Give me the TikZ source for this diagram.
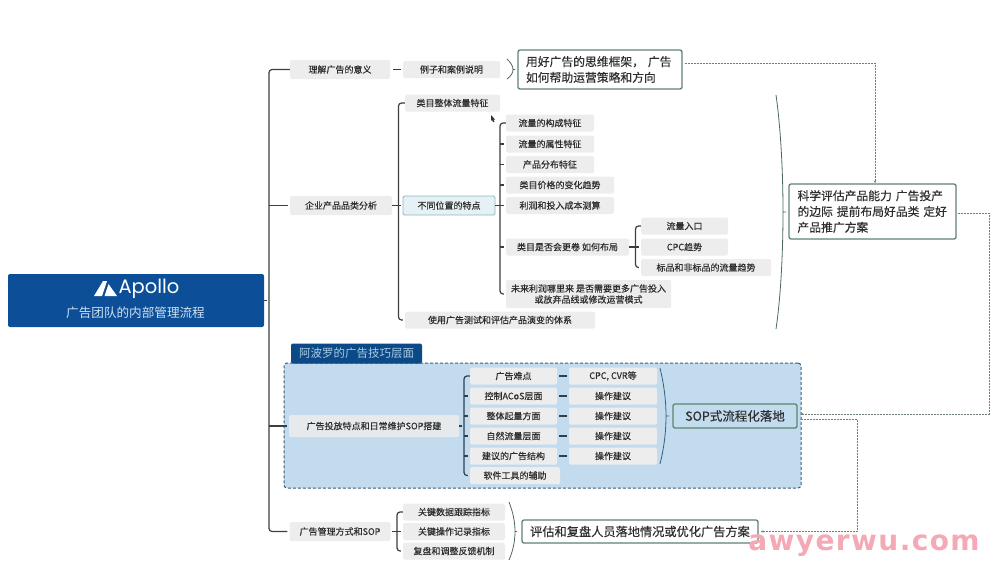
\documentclass[tikz,border=0pt]{standalone}
\usepackage{fontspec}
\usepackage{color}
\setmainfont{Noto Sans CJK SC}
\newfontfamily\leaffont[FakeBold=0.35]{Noto Sans CJK SC}
\newfontfamily\logofont{Poppins}
\newfontfamily\markfont[LetterSpace=5]{DejaVu Sans Bold}
\definecolor{rootblue}{HTML}{0C4F98}
\definecolor{tabblue}{HTML}{0B4A86}
\definecolor{tabtext}{HTML}{A9CBE6}
\definecolor{roottext}{HTML}{CFE0F0}
\definecolor{areablue}{HTML}{C2DBEE}
\definecolor{areaedge}{HTML}{3F5C75}
\definecolor{leafgrey}{HTML}{EDEDED}
\definecolor{linegrey}{HTML}{3A3F42}
\definecolor{boxgreen}{HTML}{5F8270}
\definecolor{dashgrey}{HTML}{6F7F76}
\definecolor{selectblue}{HTML}{E6F1F5}
\definecolor{selectedge}{HTML}{8DB8C4}
\definecolor{marktext}{HTML}{F4A9B5}
\usetikzlibrary{arrows.meta}

\begin{document}
\begin{tikzpicture}[x=1pt, y=-1pt,
  every node/.style = {inner sep=0pt, align=center, text=black!82},
  leaf/.style = {fill=leafgrey, rounded corners=1.5pt, font=\leaffont\fontsize{9}{11}\selectfont,
    minimum height=17pt},
  summary/.style = {draw=boxgreen, line width=1.3pt, fill=white, rounded corners=2pt,
    font=\leaffont\fontsize{11.8}{15.8}\selectfont},
  stem/.style = {draw=linegrey, line width=1.2pt, rounded corners=3pt, shorten >=2pt},
  innerstem/.style = {stem, draw=areaedge!70!black},
  brace/.style = {draw=boxgreen!80!black, line width=0.8pt},
  link/.style = {draw=dashgrey, line width=1pt, dash pattern=on 2pt off 1pt, -{Stealth[length=3pt]}}]

  \useasboundingbox (0,0) rectangle (1000,574);

  \node (area) [draw=areaedge, densely dashed, line width=1pt, fill=areablue, rounded corners=3pt,
    minimum width=517pt, minimum height=125pt] at (542.5,425.5) {};
  \node (tab) [fill=tabblue, rounded corners=2pt, text=tabtext, font=\fontsize{11.5}{13}\selectfont,
    minimum width=131pt, minimum height=20pt] at (356.5,353.5) {阿波罗的广告技巧层面};

  \node (root) [fill=rootblue, rounded corners=2pt, minimum width=256pt, minimum height=53pt] at (136,300.5) {};
  \fill[white] (94,296) -- (103,281) -- (107,281) -- (102,296) -- cycle;
  \fill[white] (108.5,284) -- (117,296) -- (104.5,296) -- cycle;
  \node (logo) [text=white, font=\logofont\fontsize{19.5}{24}\selectfont] at (149,289) {Apollo};
  \node (title) [text=roottext, font=\fontsize{12.6}{16}\selectfont] at (135.5,312.5) {广告团队的内部管理流程};

  \node (meaning) [leaf, minimum width=100pt, minimum height=19pt] at (340,69.5) {理解广告的意义};
  \node (category) [leaf, minimum width=102pt, minimum height=19pt] at (341,205.5) {企业产品品类分析};
  \node (daily) [leaf, fill=leafgrey!85!areablue, minimum width=170pt, minimum height=22pt] at (374,426) {广告投放特点和日常维护SOP搭建};
  \node (manage) [leaf, minimum width=101pt, minimum height=19pt] at (340,531.5) {广告管理方式和SOP};

  \node (cases) [leaf, minimum width=97pt] at (451.5,69.5) {例子和案例说明};
  \node (whole) [leaf, minimum width=95pt] at (452.5,103) {类目整体流量特征};
  \node (spots) [leaf, draw=selectedge, fill=selectblue, line width=0.8pt, minimum width=92pt, minimum height=19pt] at (449,205.5) {不同位置的特点};
  \node (test) [leaf, minimum width=190pt] at (500,320) {使用广告测试和评估产品演变的体系};

  \node (make) [leaf, minimum width=88pt] at (550,123) {流量的构成特征};
  \node (attr) [leaf, minimum width=88pt] at (550,144) {流量的属性特征};
  \node (spread) [leaf, minimum width=88pt] at (550,164.5) {产品分布特征};
  \node (price) [leaf, minimum width=108pt] at (560,185) {类目价格的变化趋势};
  \node (cost) [leaf, minimum width=108pt] at (560,205.5) {利润和投入成本测算};
  \node (layout) [leaf, minimum width=123pt] at (567.5,247) {类目是否会更卷 如何布局};
  \node (future) [leaf, minimum width=165pt, minimum height=28pt] at (588.5,294) {未来利润哪里来 是否需要更多广告投入\\或放弃品线或修改运营模式};

  \node (entry) [leaf, minimum width=87pt] at (684.5,226) {流量入口};
  \node (cpc) [leaf, minimum width=87pt] at (684.5,247) {CPC趋势};
  \node (std) [leaf, minimum width=130pt] at (706,267.5) {标品和非标品的流量趋势};

  \node (hard) [leaf, minimum width=87pt] at (513.5,376) {广告难点};
  \node (acos) [leaf, minimum width=87pt] at (513.5,396) {控制ACoS层面};
  \node (volume) [leaf, minimum width=87pt] at (513.5,416) {整体起量方面};
  \node (natural) [leaf, minimum width=87pt] at (513.5,436) {自然流量层面};
  \node (struct) [leaf, minimum width=87pt] at (513.5,456) {建议的广告结构};
  \node (tools) [leaf, minimum width=90pt] at (515,475.5) {软件工具的辅助};

  \node (cvr) [leaf, minimum width=88pt] at (613,376) {CPC, CVR等};
  \node (tipa) [leaf, minimum width=88pt] at (613,396) {操作建议};
  \node (tipb) [leaf, minimum width=88pt] at (613,416) {操作建议};
  \node (tipc) [leaf, minimum width=88pt] at (613,436) {操作建议};
  \node (tipd) [leaf, minimum width=88pt] at (613,456) {操作建议};

  \node (track) [leaf, minimum width=102pt] at (454,512) {关键数据跟踪指标};
  \node (record) [leaf, minimum width=102pt] at (454,531.5) {关键操作记录指标};
  \node (review) [leaf, minimum width=102pt] at (454,551) {复盘和调整反馈机制};

  \node (frame) [summary, align=left, minimum width=164pt, minimum height=39pt, text width=148pt] at (600,69.5) {用好广告的思维框架， 广告\\如何帮助运营策略和方向};
  \node (ability) [summary, align=left, minimum width=167pt, minimum height=55pt, text width=150pt] at (872.5,211.5) {科学评估产品能力 广告投产\\的边际 提前布局好品类 定好\\产品推广方案};
  \node (sop) [summary, fill=areablue, font=\leaffont\fontsize{12.5}{15}\selectfont, minimum width=124pt, minimum height=24pt] at (735,416) {SOP式流程化落地};
  \node (assess) [summary, font=\leaffont\fontsize{12.2}{15}\selectfont, minimum width=236pt, minimum height=23pt] at (640,531.5) {评估和复盘人员落地情况或优化广告方案};

  \coordinate (trunk) at (269,300.5);
  \coordinate (forka) at (398.5,205.5);
  \coordinate (forkb) at (500,205.5);
  \coordinate (forkc) at (635.5,247);
  \coordinate (forkd) at (464,426);
  \coordinate (forke) at (397,531.5);

  \draw[stem] (meaning.west) -| (trunk) |- (manage.west);
  \draw[stem] (root.east) -- (trunk);
  \draw[stem] (trunk |- category) -- (category.west);
  \draw[stem] (trunk |- daily) -- (daily.west);
  \draw[stem] ([xshift=3pt]meaning.east) -- (cases.west);

  \draw[stem] (whole.west) -| (forka) |- (test.west);
  \draw[stem] (category.east) -- (spots.west);

  \draw[stem] (make.west) -| (forkb) |- (future.west);
  \draw[stem] (spots.east) -- (cost.west);
  \draw[stem] (forkb |- attr) -- (attr.west);
  \draw[stem] (forkb |- spread) -- (spread.west);
  \draw[stem] (forkb |- price) -- (price.west);
  \draw[stem] (forkb |- layout) -- (layout.west);

  \draw[stem] (entry.west) -| (forkc) |- (std.west);
  \draw[stem] (layout.east) -- (cpc.west);

  \draw[innerstem] (hard.west) -| (forkd) |- (tools.west);
  \draw[innerstem] (daily.east) -- (forkd);
  \draw[innerstem] (forkd |- acos) -- (acos.west);
  \draw[innerstem] (forkd |- volume) -- (volume.west);
  \draw[innerstem] (forkd |- natural) -- (natural.west);
  \draw[innerstem] (forkd |- struct) -- (struct.west);
  \draw[innerstem] ([xshift=2pt]hard.east) -- (cvr.west);
  \draw[innerstem] ([xshift=2pt]acos.east) -- (tipa.west);
  \draw[innerstem] ([xshift=2pt]volume.east) -- (tipb.west);
  \draw[innerstem] ([xshift=2pt]natural.east) -- (tipc.west);
  \draw[innerstem] ([xshift=2pt]struct.east) -- (tipd.west);

  \draw[stem] (track.west) -| (forke) |- (review.west);
  \draw[stem] ([xshift=1pt]manage.east) -- (record.west);

  \draw[brace] (507,59) .. controls (511,63) and (513,66) .. (513,69.5) -- (515,69.5) -- (513,69.5) .. controls (513,73) and (511,76) .. (507,79);
  \draw[brace] (776,95) .. controls (781,130) and (783,175) .. (783,212) -- (786,212) -- (783,212) .. controls (783,250) and (781,295) .. (776,329);
  \draw[brace, draw=areaedge] (660,368) .. controls (664,385) and (666,400) .. (666,416) -- (669,416) -- (666,416) .. controls (666,432) and (664,448) .. (660,464);
  \draw[brace] (509,502) .. controls (513,512) and (515,522) .. (515,531.5) -- (517,531.5) -- (515,531.5) .. controls (515,541) and (513,551) .. (509,560);

  \draw[link] ([xshift=2pt,yshift=6.5pt]frame.east) -| ([xshift=2.5pt]ability.north);
  \draw[link] ([xshift=1pt,yshift=-1.5pt]ability.east) -| (989,414) -- ([xshift=3pt,yshift=2pt]sop.east);
  \draw[link] ([xshift=3pt,yshift=-3pt]sop.east) -| (857,531.5) -- ([xshift=2pt]assess.east);

  \fill[black!80] (491,115) -- (495,119.5) -- (493.5,119.5) -- (494.5,122) -- (493,122) -- (492,119.8) -- (491,121) -- cycle;

  \node (mark) [text=marktext, font=\markfont\fontsize{28}{30}\selectfont] at (864,546) {awyerwu.com};
\end{tikzpicture}
\end{document}
